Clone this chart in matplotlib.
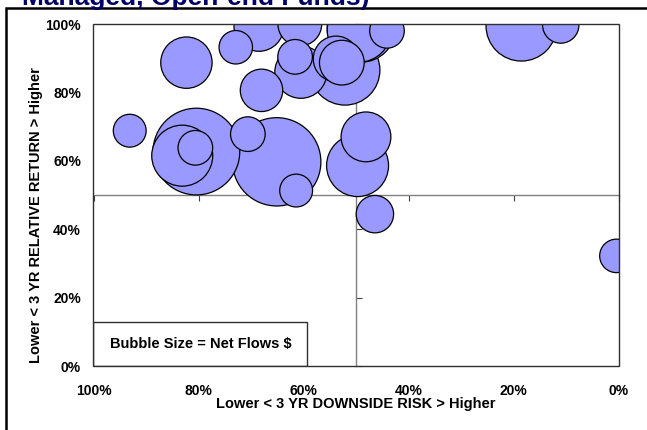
import matplotlib
matplotlib.use("Agg")
import matplotlib.pyplot as plt
from matplotlib.patches import Rectangle

plt.rcParams['font.family'] = ['Liberation Sans', 'DejaVu Sans']
plt.rcParams['font.weight'] = 'bold'

# 3-year downside risk percentile (x), relative return percentile (y), net flows ($M)
downside_risk = [93.1, 82.3, 72.9, 68.5, 68.0, 80.4, 83.1, 80.6, 70.6, 65.1,
                 61.4, 48.1, 49.7, 46.4, 0.4, 18.5, 11.0, 44.1, 61.6, 60.5,
                 52.1, 52.7, 53.8, 49.4, 49.0, 60.7]
relative_return = [68.8, 88.7, 93.2, 99.3, 80.6, 62.7, 61.5, 63.8, 67.8, 59.7,
                   51.3, 67.0, 58.6, 44.4, 32.2, 99.5, 99.7, 98.0, 90.4, 85.9,
                   86.5, 88.7, 89.8, 98.2, 98.8, 100.0]
net_flows = [27, 66, 28, 62, 45, 188, 93, 30, 30, 195,
             27, 62, 96, 35, 28, 125, 33, 30, 30, 68,
             122, 50, 52, 102, 116, 48]

tick_values = [0, 20, 40, 60, 80, 100]
tick_labels = [f"{v}%" for v in tick_values]

DPI = 100
W, H = 647, 430
fig = plt.figure(figsize=(W / DPI, H / DPI), dpi=DPI)
fig.patch.set_facecolor('white')

left, right, top, bottom = 93.5, 618.5, 24, 366
ax = fig.add_axes([left / W, 1 - bottom / H, (right - left) / W, (bottom - top) / H])
ax.set_xlim(100, 0)
ax.set_ylim(0, 100)

# quadrant axes crossing at 50% / 50%
for side in ('top', 'right'):
    ax.spines[side].set_visible(False)
ax.spines['left'].set_position(('data', 50))
ax.spines['bottom'].set_position(('data', 50))
for side in ('left', 'bottom'):
    ax.spines[side].set_color('#808080')
    ax.spines[side].set_linewidth(1.0)
ax.set_xticks(tick_values)
ax.set_yticks(tick_values)
ax.tick_params(axis='x', direction='out', length=4, color='#404040',
               labelbottom=False)
ax.tick_params(axis='y', direction='in', length=4, color='#404040',
               labelleft=False)

# tick labels along the outer edges of the plot area
sx = ax.secondary_xaxis(0.0)
sx.set_xticks(tick_values, tick_labels)
sx.tick_params(length=0, pad=13, labelsize=10)
sx.spines['bottom'].set_visible(False)
sy = ax.secondary_yaxis(0.0)
sy.set_yticks(tick_values, tick_labels)
sy.tick_params(length=0, pad=9, labelsize=10)
sy.spines['left'].set_visible(False)

# bubbles: area proportional to net flows, largest drawn first
order = sorted(range(len(net_flows)), key=lambda i: -net_flows[i])
px_per_pt = DPI / 72.0
size_scale = 4 * 10 / px_per_pt ** 2
ax.scatter([downside_risk[i] for i in order],
           [relative_return[i] for i in order],
           s=[net_flows[i] * size_scale for i in order],
           facecolor='#9999FF', edgecolor='black', linewidths=0.9, zorder=3)

# plot area border
ax.add_patch(Rectangle((0, 0), 1, 1, transform=ax.transAxes, fill=False,
                       edgecolor='#303030', linewidth=1.0, zorder=5,
                       clip_on=False))

# bubble size note
ax.add_patch(Rectangle((0, 0), (307 - left) / (right - left), 44 / (bottom - top),
                       transform=ax.transAxes, facecolor='white',
                       edgecolor='#303030', linewidth=1.0, zorder=4))
ax.text((200.5 - left) / (right - left), 22 / (bottom - top),
        "Bubble Size = Net Flows $", transform=ax.transAxes,
        ha='center', va='center', fontsize=10.5, fontweight='bold', zorder=6)

# axis titles
fig.text(356 / W, 1 - 404 / H, "Lower < 3 YR DOWNSIDE RISK > Higher",
         ha='center', va='center', fontsize=10.5, fontweight='bold')
fig.text(36.5 / W, 1 - 215 / H, "Lower < 3 YR RELATIVE RETURN > Higher",
         ha='center', va='center', rotation=90, fontsize=10.5, fontweight='bold')

# chart title
fig.text(22 / W, 1 - 5 / H, "Managed, Open-end Funds)", ha='left',
         va='baseline', fontsize=19, fontweight='bold', color='#000066')

# outer chart frame
fig.add_artist(Rectangle((6 / W, -0.5), 2.0, (1 - 8 / H) + 0.5,
                         transform=fig.transFigure, fill=False,
                         edgecolor='black', linewidth=1.8))

fig.savefig("out.png", dpi=DPI)
